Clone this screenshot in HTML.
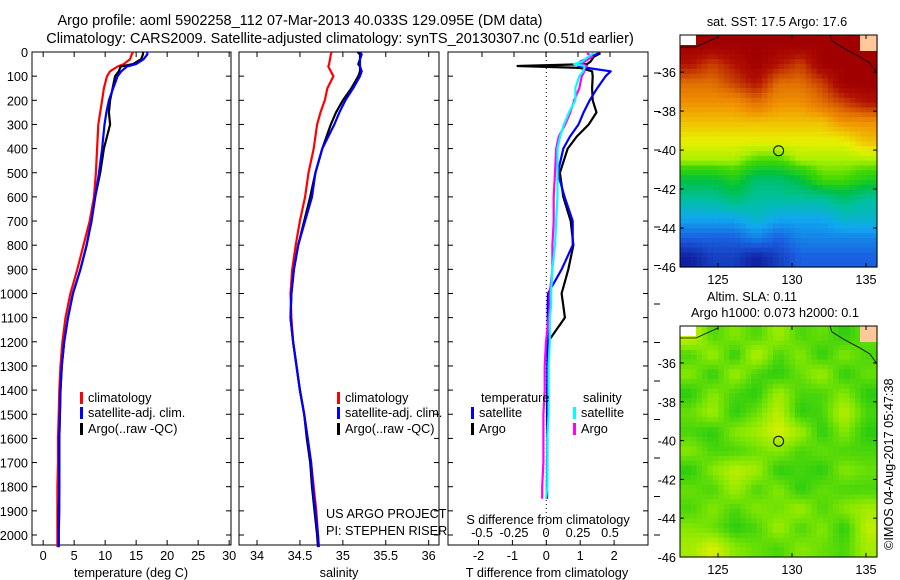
<!DOCTYPE html>
<html><head><meta charset="utf-8"><style>
body{margin:0;background:#fff}
svg{display:block;font-family:"Liberation Sans",sans-serif}
text{font-size:12.7px;fill:#000}
</style></head><body>
<svg id="c" width="900" height="580" viewBox="0 0 900 580">
<text x="300" y="25" text-anchor="middle" style="font-size:14.5px">Argo profile: aoml 5902258_112 07-Mar-2013 40.033S 129.095E (DM data)</text>
<text x="340" y="43" text-anchor="middle" style="font-size:14.5px">Climatology: CARS2009. Satellite-adjusted climatology: synTS_20130307.nc (0.51d earlier)</text>
</svg>
<script>
// ---- data ----
const depths=[0,10,30,50,60,80,100,150,200,250,300,400,500,600,700,800,900,1000,1100,1200,1300,1400,1500,1600,1700,1800,1900,2000,2050];
const argoT=[16.1,16.1,15.8,14.5,12.5,12.2,11.6,11.2,10.8,10.6,10.8,9.8,9.2,8.4,7.8,7.0,6.0,4.8,4.0,3.4,3.0,2.8,2.7,2.6,2.6,2.6,2.5,2.5,2.5];
const satT=[16.8,16.8,16.2,15.0,13.5,12.6,12.0,11.3,10.6,10.2,9.9,9.5,9.0,8.4,7.8,7.0,6.0,4.8,4.0,3.4,3.0,2.8,2.7,2.6,2.6,2.6,2.6,2.5,2.5];
const climT=[14.5,14.3,14.0,13.0,12.0,10.8,10.3,9.8,9.5,9.2,8.9,8.7,8.5,8.2,7.5,6.5,5.5,4.4,3.6,3.1,2.8,2.6,2.5,2.4,2.4,2.3,2.3,2.3,2.3];
const argoS=[35.17,35.2,35.2,35.18,35.2,35.2,35.18,35.1,35.0,34.92,34.86,34.76,34.68,34.62,34.55,34.48,34.43,34.4,34.39,34.42,34.46,34.5,34.55,34.58,34.62,34.64,34.67,34.7,34.71];
const satS=[35.2,35.22,35.2,35.2,35.2,35.22,35.2,35.12,35.03,34.96,34.9,34.76,34.68,34.64,34.56,34.48,34.43,34.4,34.39,34.42,34.46,34.5,34.55,34.59,34.63,34.65,34.68,34.71,34.72];
const climS=[34.87,34.86,34.85,34.84,34.83,34.86,34.89,34.82,34.79,34.74,34.7,34.66,34.6,34.56,34.5,34.45,34.41,34.39,34.4,34.42,34.46,34.5,34.55,34.59,34.63,34.66,34.69,34.71,34.72];
const diffDepths=[5,20,40,50,58,66,80,100,150,200,250,300,350,400,500,600,700,800,900,1000,1050,1100,1200,1300,1400,1500,1600,1700,1800,1850];
const argoTd=[1.6,1.4,1.3,1.2,-0.85,1.0,1.35,1.37,1.35,1.37,1.48,1.25,0.9,0.63,0.4,0.5,0.72,0.8,0.65,0.45,0.5,0.55,0.05,0.05,0.03,0.02,0.03,0.02,0.02,0.02];
const satTd=[1.55,1.3,1.0,1.0,0.95,1.2,1.9,1.75,1.5,1.28,1.1,0.95,0.7,0.5,0.34,0.54,0.78,0.78,0.45,0.05,0.04,0.04,0.04,0.03,0.03,0.03,0.03,0.03,0.02,0.02];
const satSd=[0.37,0.33,0.28,0.22,0.3,0.3,0.29,0.26,0.23,0.23,0.18,0.14,0.11,0.09,0.09,0.09,0.08,0.07,0.05,0.04,0.04,0.03,0.03,0.02,0.02,0.02,0.01,0.01,0.01,0.0];
const argoSd=[0.32,0.36,0.3,0.27,0.32,0.3,0.3,0.28,0.26,0.22,0.19,0.15,0.1,0.08,0.07,0.06,0.06,0.05,0.05,0.03,0.03,0.02,0.0,-0.01,-0.01,-0.02,-0.02,-0.02,-0.03,-0.03];
const depthTicks=[0,100,200,300,400,500,600,700,800,900,1000,1100,1200,1300,1400,1500,1600,1700,1800,1900,2000];
const tTicks=[0,5,10,15,20,25,30];
const sTicks=[34,34.5,35,35.5,36];
const tdTicks=[-2,-1,0,1,2];
const sdTicks=[-0.5,-0.25,0,0.25,0.5];
const sstGrid=[
[20,20,20,20,20,20,20,20,20],
[19.5,19,19.5,20,19.5,19,20,20,20],
[18.5,18.5,19,19.5,18.5,18.5,19,20,20],
[18,18,18,18.5,18,18,18.5,19,19.5],
[17.5,17.5,17.5,17.5,17.5,17.5,17.5,18,18],
[17,17,17,17,17,17,17,17,17.5],
[16.5,16.5,16.5,16,16,16.5,16.5,16.5,16.5],
[15,15,15.5,14.5,14.5,15,16,16,15.5],
[14,14,14.5,14,14,14,14,14.5,14],
[13,13,13,13.5,13,13,13,13.5,13.5],
[12,12,12,12.5,12,12.5,12.5,12.5,12.5],
[11,11.5,11.5,11,11.5,12,12,12,12]];
const slaGrid=[
[0.8,0.3,0.5,0.3,0.6,0.3,0.4,0.2,0.4],
[0.3,0.6,0.2,0.7,0.3,0.5,0.2,0.5,0.3],
[0.5,0.2,0.6,0.3,0.2,0.4,0.6,0.2,0.4],
[0.2,0.5,0.3,0.2,0.6,0.3,0.3,0.5,0.2],
[0.4,0.6,0.2,0.4,0.7,0.2,0.3,0.7,0.3],
[0.3,0.2,0.5,0.6,0.8,0.6,0.2,0.5,0.2],
[0.5,0.3,0.3,0.4,0.5,0.3,0.4,0.3,0.3],
[0.2,0.5,0.7,0.6,0.2,0.3,0.2,0.5,0.4],
[0.4,0.3,0.6,0.3,0.5,0.2,0.4,0.3,0.3],
[0.3,0.5,0.3,0.5,0.4,0.6,0.3,0.5,0.6],
[0.5,0.4,0.2,0.3,0.6,0.3,0.5,0.2,0.7],
[0.6,0.8,0.5,0.4,0.3,0.5,0.4,0.3,0.6]];
const latTicks=[-36,-38,-40,-42,-44,-46];
const lonTicks=[125,130,135];

// ---- helpers ----
const NS='http://www.w3.org/2000/svg';
const svg=document.getElementById('c');
function mk(tag,attrs,parent){const e=document.createElementNS(NS,tag);for(const k in attrs)e.setAttribute(k,attrs[k]);(parent||svg).appendChild(e);return e;}
const top0=52,bot=545;
const yD=d=>top0+d*0.2415;
function panel(name,x0,x1,lo,hi){return {name,x0,x1,sx:v=>x0+(v-lo)/(hi-lo)*(x1-x0)};}
const P1=panel('temperature-panel',32,231,-1.8,30.3);
const P2=panel('salinity-panel',239,439,33.79,36.12);
const P3=panel('difference-panel',448,648,-2.9,3.0);
const sdx=v=>546+v*128;

function frame(p){
  const g=mk('g',{});
  
  
  const r=mk('rect',{x:p.x0,y:top0,width:p.x1-p.x0,height:bot-top0,fill:'#fff',stroke:'#000','stroke-width':1},g);
  
  
  depthTicks.forEach(d=>{const y=yD(d);
    mk('line',{x1:p.x0,x2:p.x0+5,y1:y,y2:y,stroke:'#000'},g);
    mk('line',{x1:p.x1-5,x2:p.x1,y1:y,y2:y,stroke:'#000'},g);});
  return g;
}
function xticks(p,ticks,fmt,sx,yLab,withBottomTick,withTopTick){
  ticks.forEach(t=>{const x=(sx||p.sx)(t);
    if(withBottomTick){mk('line',{x1:x,x2:x,y1:bot,y2:bot-5,stroke:'#000'});}
    if(withTopTick){mk('line',{x1:x,x2:x,y1:top0,y2:top0+5,stroke:'#000'});}
    const tx=mk('text',{x:x,y:yLab,'text-anchor':'middle'});tx.textContent=fmt(t);
    
    
  });
}
function line(p,sx,vals,ds,color,name,w){
  const pts=vals.map((v,i)=>sx(v).toFixed(1)+','+yD(ds[i]).toFixed(1)).join(' ');
  const l=mk('polyline',{points:pts,fill:'none',stroke:color,'stroke-width':w||2.2,'stroke-linejoin':'round'});
  
  
}
function label(x,y,s,name,anchor){const t=mk('text',{x:x,y:y,'text-anchor':anchor||'start'});t.textContent=s;
  
  return t;}
function legend(x,y,color,s,name){mk('rect',{x:x,y:y-10,width:3,height:12,fill:color});label(x+8,y,s,name);}

// panel 1
frame(P1);
depthTicks.forEach(d=>{const t=mk('text',{x:28,y:yD(d)+5,'text-anchor':'end'});t.textContent=d;
  
  });
xticks(P1,tTicks,t=>t,null,560,true,true);
label(131,577,'temperature (deg C)','x-axis-title-temperature','middle');
line(P1,P1.sx,climT,depths,'#f00','series-climatology-temp');
line(P1,P1.sx,argoT,depths,'#000','series-argo-temp');
line(P1,P1.sx,satT,depths,'#00f','series-satellite-temp');
legend(80,402,'#f00','climatology','legend-climatology');
legend(80,417,'#00f','satellite-adj. clim.','legend-satellite-adj');
legend(80,433,'#000','Argo(..raw -QC)','legend-argo');

// panel 2
frame(P2);
xticks(P2,sTicks,t=>t,null,560,true,true);
label(339,577,'salinity','x-axis-title-salinity','middle');
line(P2,P2.sx,climS,depths,'#f00','series-climatology-sal');
line(P2,P2.sx,argoS,depths,'#000','series-argo-sal');
line(P2,P2.sx,satS,depths,'#00f','series-satellite-sal');
legend(337,402,'#f00','climatology','legend2-climatology');
legend(337,417,'#00f','satellite-adj. clim.','legend2-satellite-adj');
legend(337,433,'#000','Argo(..raw -QC)','legend2-argo');
label(326,518,'US ARGO PROJECT','project-label');
label(326,535,'PI: STEPHEN RISER','pi-label');

// panel 3
frame(P3);
mk('line',{x1:P3.sx(0),x2:P3.sx(0),y1:top0,y2:bot,stroke:'#000','stroke-dasharray':'1,3'});
xticks(P3,tdTicks,t=>t,null,560,true,false);
xticks(P3,sdTicks,t=>t,sdx,537,false,true);
label(548,524,'S difference from climatology','s-diff-axis-title','middle');
label(547,577,'T difference from climatology','t-diff-axis-title','middle');
line(P3,P3.sx,argoTd,diffDepths,'#000','series-argo-tdiff');
line(P3,P3.sx,satTd,diffDepths,'#00f','series-satellite-tdiff');
line(P3,sdx,argoSd,diffDepths,'#f0f','series-argo-sdiff');
line(P3,sdx,satSd,diffDepths,'#0ff','series-satellite-sdiff');
label(481,402,'temperature','legend3-temperature-head');
legend(471,417,'#00f','satellite','legend3-t-satellite');
legend(471,433,'#000','Argo','legend3-t-argo');
label(583,402,'salinity','legend3-salinity-head');
legend(573,417,'#0ff','satellite','legend3-s-satellite');
legend(573,433,'#f0f','Argo','legend3-s-argo');
for(let y=73;y<560;y+=38.5){mk('line',{x1:654,x2:660,y1:y,y2:y,stroke:'#000'});}

// ---- maps ----
function lerpColor(stops,v){
  if(v<=stops[0][0])return stops[0][1];
  for(let i=1;i<stops.length;i++){if(v<=stops[i][0]){const a=stops[i-1],b=stops[i],f=(v-a[0])/(b[0]-a[0]);
    const ca=a[1].match(/\w\w/g).map(h=>parseInt(h,16)),cb=b[1].match(/\w\w/g).map(h=>parseInt(h,16));
    return 'rgb('+ca.map((c,k)=>Math.round(c+(cb[k]-c)*f)).join(',')+')';}}
  return stops[stops.length-1][1];
}
const sstStops=[[11,'#1020a0'],[12,'#1a60e0'],[13,'#10a8f0'],[14,'#00c0a0'],[15,'#00c040'],[16,'#40d800'],[16.5,'#a8f000'],[17,'#e8f000'],[17.5,'#f0c000'],[18,'#f09000'],[18.5,'#e07000'],[19,'#c84000'],[19.5,'#b01000'],[20,'#a00000']];
const slaStops=[[0.2,'#28cc10'],[0.5,'#88e800'],[0.8,'#d8f000'],[1,'#f0e000']];
function map(name,x0,y0,y1,grid,stops){
  const x1=877;const g=mk('g',{});
  
  
  const rows=grid.length,cols=grid[0].length,sub=4;
  const cw=(x1-x0)/(cols*sub),ch=(y1-y0)/(rows*sub);
  for(let r=0;r<rows*sub;r++)for(let c=0;c<cols*sub;c++){
    const fr=Math.min(rows-1,Math.max(0,(r+0.5)/sub-0.5)),fc=Math.min(cols-1,Math.max(0,(c+0.5)/sub-0.5));
    const r0=Math.floor(fr),c0=Math.floor(fc),r1=Math.min(rows-1,r0+1),c1=Math.min(cols-1,c0+1),a=fr-r0,b=fc-c0;
    const v=grid[r0][c0]*(1-a)*(1-b)+grid[r0][c1]*(1-a)*b+grid[r1][c0]*a*(1-b)+grid[r1][c1]*a*b;
    const cell=mk('rect',{x:(x0+c*cw).toFixed(2),y:(y0+r*ch).toFixed(2),width:(cw+0.6).toFixed(2),height:(ch+0.6).toFixed(2),fill:lerpColor(stops,v)},g);
    
    
  }
  const latY=lat=>y1-( (-46-lat)*-1 )*((y1-(y0+ (y1-y0)*0.16))/10);
  const lonX=lon=>718+(lon-125)*14.8;
  mk('rect',{x:x0,y:y0,width:16,height:10,fill:'#fff'},g);
  mk('rect',{x:860,y:y0,width:17,height:16,fill:'#ffc89a'},g);
  mk('polyline',{points:`${x0},${y0+12} ${x0+16},${y0+12} ${x0+38},${y0+2} ${x0+38},${y0}`,fill:'none',stroke:'#000','stroke-width':0.8},g);
  mk('polyline',{points:`${x0+150},${y0} ${x0+152},${y0+6} ${x0+165},${y0+14} ${x0+180},${y0+22} ${x0+190},${y0+28} ${x0+197},${y0+38}`,fill:'none',stroke:'#000','stroke-width':0.8},g);
  mk('rect',{x:x0,y:y0,width:x1-x0,height:y1-y0,fill:'none',stroke:'#000'},g);
  latTicks.forEach(lat=>{const y=latY(lat);
    mk('line',{x1:x0,x2:x0+4,y1:y,y2:y,stroke:'#000'},g);mk('line',{x1:x1-4,x2:x1,y1:y,y2:y,stroke:'#000'},g);
    const t=mk('text',{x:x0-4,y:y+5,'text-anchor':'end'},g);t.textContent=lat;
    
    });
  lonTicks.forEach(lon=>{const x=lonX(lon);
    mk('line',{x1:x,x2:x,y1:y1,y2:y1-4,stroke:'#000'},g);mk('line',{x1:x,x2:x,y1:y0,y2:y0+4,stroke:'#000'},g);
    const t=mk('text',{x:x,y:y1+17,'text-anchor':'middle'},g);t.textContent=lon;
    
    });
  const cy=latY(-40.033),cx=lonX(129.095);
  const m=mk('circle',{cx:cx,cy:cy,r:5,fill:'none',stroke:'#000'},g);
  
  
  return g;
}
map('sst-map',680,35,267,sstGrid,sstStops);
label(777,26,'sat. SST: 17.5 Argo: 17.6','sst-map-title','middle');
map('sla-map',680,326,557,slaGrid,slaStops);
label(752,301,'Altim. SLA: 0.11','sla-map-title','middle');
label(775,317,'Argo h1000: 0.073 h2000: 0.1','sla-map-subtitle','middle');
const ts=mk('text',{x:0,y:0,transform:'translate(893,550) rotate(-90)'});
ts.textContent='©IMOS 04-Aug-2017 05:47:38';


</script>
</body></html>
